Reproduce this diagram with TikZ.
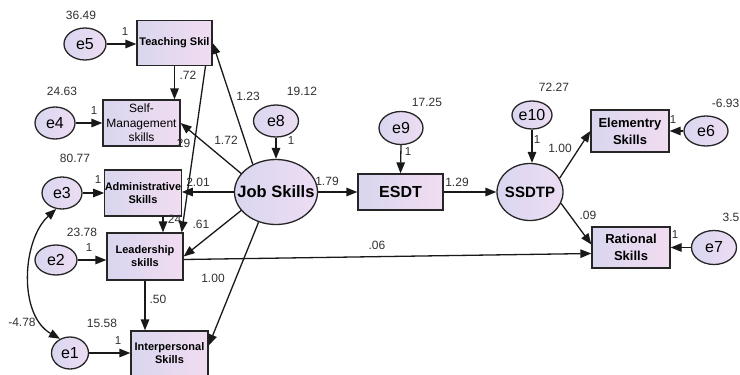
\documentclass[tikz,border=0pt]{standalone}
\usepackage{fontspec}
\setmainfont{Liberation Sans}
\usetikzlibrary{shapes.geometric,arrows.meta}
\definecolor{boxl}{HTML}{D9D6EE}
\definecolor{boxr}{HTML}{F1DCF1}
\definecolor{ovl}{HTML}{DAD6F0}
\definecolor{ovr}{HTML}{ECDDF3}
\definecolor{numc}{HTML}{303030}
\begin{document}
\begin{tikzpicture}[x=1pt,y=-1pt,
  obs/.style={rectangle,draw=black!85,line width=1.3pt,left color=boxl,right color=boxr,
    inner sep=0pt,align=center,font=\bfseries\fontsize{11}{13}\selectfont},
  lat/.style={ellipse,draw=black!85,line width=1.3pt,left color=ovl,right color=ovr,inner sep=0pt},
  err/.style={lat,font=\fontsize{16}{17}\selectfont},
  latname/.style={label={[font=\bfseries\fontsize{#1}{#1}\selectfont,inner sep=0pt]center:}},
  num/.style={text=numc,font=\fontsize{12}{13}\selectfont,inner sep=0pt},
  one/.style={text=numc,font=\fontsize{11.5}{12}\selectfont,inner sep=0pt},
  tip/.tip={Triangle[length=11pt,width=8.5pt]},
  reg/.style={draw=black!90,line width=1.3pt,-tip},
  cov/.style={draw=black!90,line width=1.3pt,tip-tip},
]
\useasboundingbox (0,0) rectangle (740,375);

% observed skill indicators
\node[obs,minimum width=75pt,minimum height=45pt] (teach) at (174.5,43) {Teaching Skil};
\node[obs,font=\fontsize{12}{14.5}\selectfont,minimum width=77pt,minimum height=46pt] (self) at (141.5,123) {Self-\\Management\\skills};
\node[obs,minimum width=76pt,minimum height=46pt] (admin) at (143,193) {Administrative\\Skills};
\node[obs,minimum width=76pt,minimum height=47pt] (lead) at (145,256.5) {Leadership\\skills};
\node[obs,minimum width=77pt,minimum height=45pt] (inter) at (169.5,353.5) {Interpersonal\\Skills};
\node[obs,font=\bfseries\fontsize{16}{17}\selectfont,minimum width=85pt,minimum height=36pt] (esdt) at (400.5,192) {ESDT};
\node[obs,font=\bfseries\fontsize{13}{17}\selectfont,minimum width=78pt,minimum height=42pt] (elem) at (630,131) {Elementry\\Skills};
\node[obs,font=\bfseries\fontsize{13}{17}\selectfont,minimum width=78pt,minimum height=41pt] (rat) at (631,247.5) {Rational\\Skills};

% latent variables (name set as a centred label so the oval keeps its size)
\node[lat,minimum width=83pt,minimum height=65pt,
  label={[font=\bfseries\fontsize{16.5}{17}\selectfont,inner sep=0pt]center:Job Skills}] (job) at (276,192) {};
\node[lat,minimum width=66pt,minimum height=57pt,
  label={[font=\bfseries\fontsize{15}{16}\selectfont,inner sep=0pt]center:SSDTP}] (ssdtp) at (530,192) {};

% error terms
\node[err,minimum width=42pt,minimum height=32pt] (e5) at (85,44) {e5};
\node[err,minimum width=40pt,minimum height=32pt] (e4) at (55,123) {e4};
\node[err,minimum width=40pt,minimum height=32pt] (e3) at (62,193) {e3};
\node[err,minimum width=42pt,minimum height=30pt] (e2) at (56,260) {e2};
\node[err,minimum width=37pt,minimum height=32pt] (e1) at (70,353) {e1};
\node[err,minimum width=45pt,minimum height=32pt] (e8) at (276,121) {e8};
\node[err,minimum width=44pt,minimum height=33pt] (e9) at (401,128) {e9};
\node[err,minimum width=40pt,minimum height=28pt] (e10) at (532,115) {e10};
\node[err,minimum width=44pt,minimum height=30pt] (e6) at (706,131) {e6};
\node[err,minimum width=45pt,minimum height=34pt] (e7) at (714,247.5) {e7};

% coefficient labels
\node[num] (n72) at (188,75) {.72};
\node[num] (n123) at (248,96) {1.23};
\node[num] (n172) at (226,140) {1.72};
\node[num] (n29) at (182,143) {.29};
\node[num] (n201) at (198,182) {2.01};
\node[num] (n24) at (173,219) {.24};
\node[num] (n61) at (201,224) {.61};
\node[num] (n100a) at (213,278) {1.00};
\node[num] (n50) at (158,299) {.50};
\node[num] (n179) at (327,181) {1.79};
\node[num] (n129) at (457,182) {1.29};
\node[num] (n06) at (377,245) {.06};
\node[num] (n100b) at (560,148) {1.00};
\node[num] (n09) at (588,215) {.09};

% variances
\node[num] (v5) at (81,15) {36.49};
\node[num] (v4) at (62,91) {24.63};
\node[num] (v3) at (75,158) {80.77};
\node[num] (v2) at (82,232) {23.78};
\node[num] (v1) at (102,323) {15.58};
\node[num] (c31) at (22,322) {-4.78};
\node[num] (v8) at (302,91) {19.12};
\node[num] (v9) at (427,102) {17.25};
\node[num] (v10) at (554,87) {72.27};
\node[num,anchor=east] (v6) at (739.5,103) {-6.93};
\node[num,anchor=east] (v7) at (739.5,217) {3.5};

% fixed loadings
\node[one] (f5) at (125,32) {1};
\node[one] (f4) at (94,111) {1};
\node[one] (f3) at (98,180) {1};
\node[one] (f2) at (89,248) {1};
\node[one] (f1) at (118,341) {1};
\node[one] (f8) at (291,141) {1};
\node[one] (f9) at (408,152) {1};
\node[one] (f10) at (537,140) {1};
\node[one] (f6) at (673,120) {1};
\node[one] (f7) at (675,235) {1};

% error paths
\draw[reg] (e5.east) -- (e5.east -| teach.west);
\draw[reg] (e4.east) -- (e4.east -| self.west);
\draw[reg] (e3.east) -- (e3.east -| admin.west);
\draw[reg] (e2.east) -- (e2.east -| lead.west);
\draw[reg] (e1.east) -- (e1.east -| inter.west);
\draw[reg] (e8.south) -- (job.north);
\draw[reg] (e9.south) -- (esdt.north);
\draw[reg] (e10.south) -- (e10.south |- ssdtp.north);
\draw[reg] (e6.west) -- (elem.east);
\draw[reg] (e7.west) -- (rat.east);

% covariance between e3 and e1
\draw[cov] (e3.250) .. controls (22,240) and (18,315) .. (e1.125);

% structural paths
\draw[reg] (teach.south) -- (teach.south |- self.north);
\draw[reg] ([xshift=31pt]teach.south) -- ([xshift=-2pt]lead.north east);
\draw[reg] ([xshift=20pt]admin.south) -- ([xshift=20pt]admin.south |- lead.north);
\draw[reg] (job.130) -- (teach.east);
\draw[reg] (job.152) -- (self.east);
\draw[reg] (job.west) -- (job.west -| admin.east);
\draw[reg] (job.208) -- (lead.east);
\draw[reg] (job.240) -- ([yshift=8pt]inter.east);
\draw[reg] (lead.south) -- (lead.south |- inter.north);
\draw[reg] ([yshift=-3pt]lead.east) -- ([yshift=-6pt]rat.west);
\draw[reg] (job.east) -- (esdt.west);
\draw[reg] (esdt.east) -- (ssdtp.west);
\draw[reg] (ssdtp.25) -- (elem.west);
\draw[reg] (ssdtp.-20) -- ([yshift=3pt]rat.west);
\end{tikzpicture}
\end{document}
